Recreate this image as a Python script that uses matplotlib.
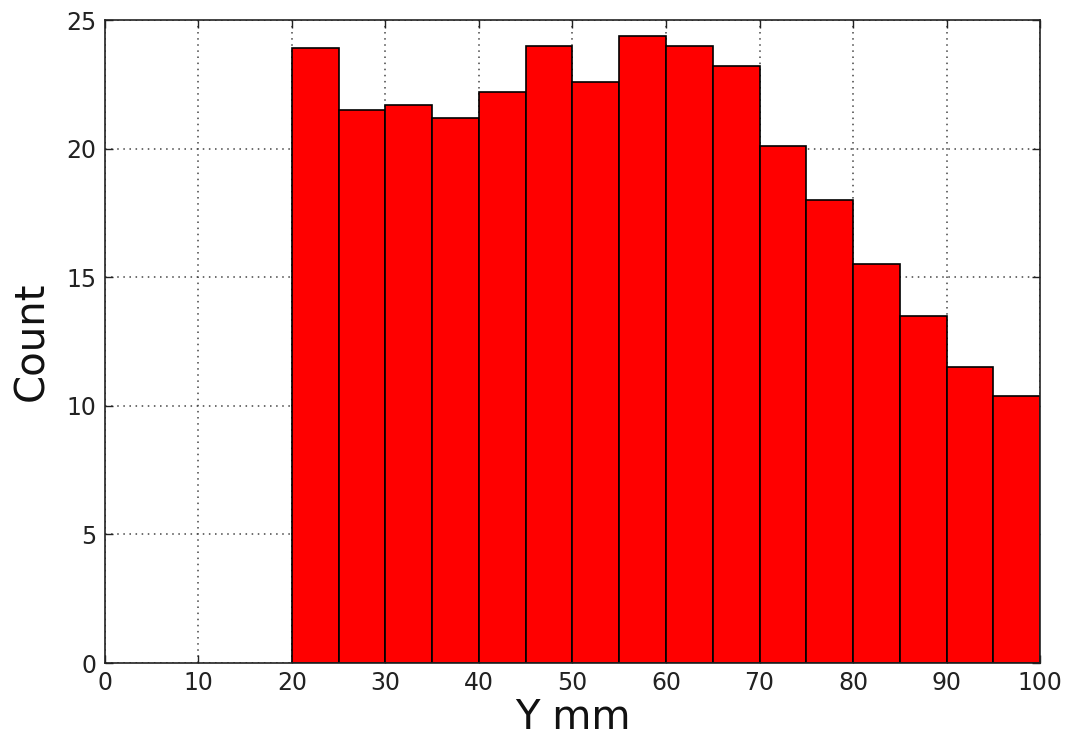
import numpy as np
import matplotlib
matplotlib.use('Agg')
import matplotlib.pyplot as plt

# bin edges and heights of the histogram
bin_edges = [20, 25, 30, 35, 40, 45, 50, 55, 60, 65, 70, 75, 80, 85, 90, 95, 100]
counts = [23.9, 21.5, 21.7, 21.2, 22.2, 24.0, 22.6, 24.4, 24.0, 23.2,
          20.1, 18.0, 15.5, 13.5, 11.5, 10.4]
xticks = [0, 10, 20, 30, 40, 50, 60, 70, 80, 90, 100]
yticks = [0, 5, 10, 15, 20, 25]

fig = plt.figure(figsize=(10.68, 7.45), dpi=100)
ax = fig.add_axes([0.098, 0.110, 0.876, 0.863])

lefts = np.array(bin_edges[:-1])
widths = np.diff(bin_edges)
ax.bar(lefts, counts, width=widths, align='edge', color='#ff0000',
       edgecolor='black', linewidth=1.2, zorder=2)

ax.set_xlim(0, 100)
ax.set_ylim(0, 25)
ax.set_xticks(xticks)
ax.set_yticks(yticks)
ax.grid(True, linestyle=(0, (1, 3)), color='#444444', linewidth=1.1, zorder=0)
ax.set_axisbelow(True)

ax.tick_params(direction='in', top=True, right=True, length=6, width=1,
               labelsize=17, pad=6, colors='#222222')
for sp in ax.spines.values():
    sp.set_linewidth(1.2)
    sp.set_color('#222222')

ax.set_xlabel('Y mm', fontsize=29, labelpad=2, color='#111111')
ax.set_ylabel('Count', fontsize=29, labelpad=10, color='#111111')

fig.savefig('out.png', dpi=100)
